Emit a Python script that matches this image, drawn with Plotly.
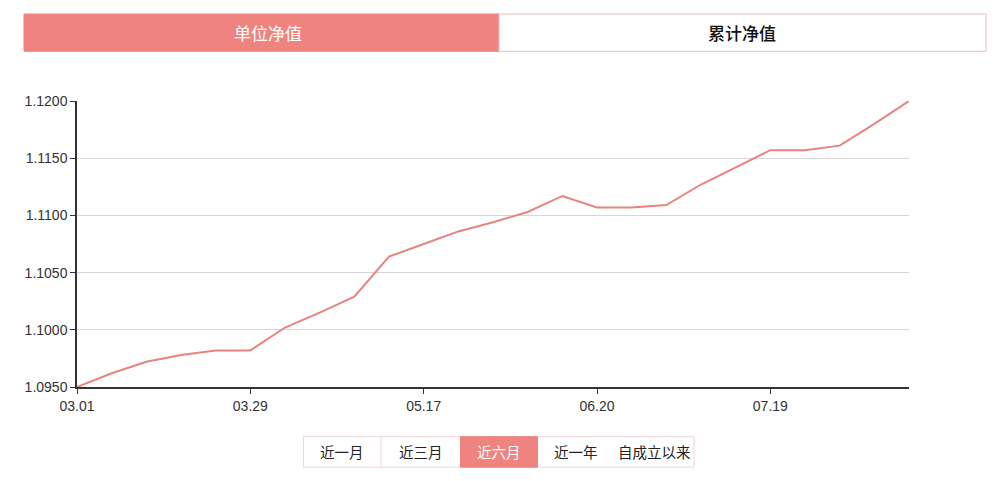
import plotly.graph_objects as go

# ---- data ----
nav_values = [1.0950, 1.0962, 1.0972, 1.0978, 1.0982, 1.0982, 1.1002, 1.1015,
              1.1029, 1.1064, 1.1075, 1.1086, 1.1094, 1.1103, 1.1117, 1.1107,
              1.1107, 1.1109, 1.1127, 1.1142, 1.1157, 1.1157, 1.1161, 1.1180,
              1.1200]
point_index = list(range(len(nav_values)))
tick_positions = [0, 5, 10, 15, 20]
tick_labels = ["03.01", "03.29", "05.17", "06.20", "07.19"]
y_ticks = [1.0950, 1.1000, 1.1050, 1.1100, 1.1150, 1.1200]
tab_labels = ["单位净值", "累计净值"]
range_labels = ["近一月", "近三月", "近六月", "近一年", "自成立以来"]
active_range = 2

# ---- style ----
OFF = 8  # page body margin
W, H = 1000 - 2 * OFF, 481 - 2 * OFF
L, R, T, B = 77 - OFF, 909 - OFF, 101.3 - OFF, 386.7 - OFF
PINK = "#EF8380"
LINE = "#E8837F"
BORDER = "#F3D3D3"
FONT = "Noto Sans CJK SC"
NUMFONT = "Liberation Sans"

def px(x):
    return (x - OFF - L) / (R - L)

def py(y):
    return (B - (y - OFF)) / (B - T)

fig = go.Figure()
fig.add_trace(go.Scatter(
    x=point_index, y=nav_values, mode="lines",
    line=dict(color=LINE, width=2), hoverinfo="skip", showlegend=False,
))

shapes = []
annotations = []

# top tabs
tab_bounds = [(24, 499), (499, 986)]
tab_text_x = [268, 742]
for i, (lab, (x0, x1)) in enumerate(zip(tab_labels, tab_bounds)):
    active = i == 0
    shapes.append(dict(type="rect", xref="paper", yref="paper",
                       x0=px(x0), x1=px(x1), y0=py(51.7), y1=py(14.5),
                       fillcolor=PINK if active else "white",
                       line=dict(color=PINK if active else "#EDBDBD", width=1),
                       layer="below"))
    annotations.append(dict(xref="paper", yref="paper",
                            x=px(tab_text_x[i]), y=py(33), text=lab,
                            showarrow=False, xanchor="center", yanchor="middle",
                            font=dict(family=FONT, size=17,
                                      weight=400 if active else 500,
                                      color="white" if active else "#111")))

# range buttons
btn_bounds = [(303.5, 381), (381, 460.5), (460.5, 537.5), (537.5, 615), (615, 694)]
shapes.append(dict(type="rect", xref="paper", yref="paper",
                   x0=px(303.5), x1=px(694), y0=py(466.7), y1=py(436.3),
                   fillcolor="white", line=dict(color=BORDER, width=1), layer="below"))
for i, (lab, (x0, x1)) in enumerate(zip(range_labels, btn_bounds)):
    active = i == active_range
    if active:
        shapes.append(dict(type="rect", xref="paper", yref="paper",
                           x0=px(x0), x1=px(x1), y0=py(466.7), y1=py(436.3),
                           fillcolor=PINK, line=dict(color=PINK, width=1), layer="below"))
    elif i < 3 and i != active_range - 1:
        shapes.append(dict(type="line", xref="paper", yref="paper",
                           x0=px(x1), x1=px(x1), y0=py(466.7), y1=py(436.3),
                           line=dict(color=BORDER, width=1), layer="below"))
    annotations.append(dict(xref="paper", yref="paper",
                            x=px((x0 + x1) / 2), y=py(451.5), text=lab,
                            showarrow=False, xanchor="center", yanchor="middle",
                            font=dict(family=FONT, size=14.5,
                                      color="white" if active else "#222")))

fig.update_layout(
    width=W, height=H,
    margin=dict(l=L, r=W - R, t=T, b=H - B, pad=0),
    paper_bgcolor="white", plot_bgcolor="white",
    shapes=shapes, annotations=annotations,
    font=dict(family=FONT, color="#333", size=14),
    xaxis=dict(range=[0, len(nav_values) - 1], tickvals=tick_positions, ticktext=tick_labels,
               showgrid=False, zeroline=False, showline=True, linecolor="#333", linewidth=1.5,
               ticks="outside", ticklen=5, tickcolor="#333", tickwidth=1,
               tickfont=dict(family=NUMFONT, size=14, color="#333"), fixedrange=True),
    yaxis=dict(range=[1.0950, 1.1200], tickvals=y_ticks, tickformat=".4f",
               showgrid=True, gridcolor="#D6D6D6", gridwidth=1, zeroline=False,
               showline=True, linecolor="#333", linewidth=1.5,
               ticks="outside", ticklen=5, tickcolor="#333", tickwidth=1,
               tickfont=dict(family=NUMFONT, size=14, color="#333"), fixedrange=True),
)

fig.write_html("out.html", config={"displayModeBar": False})
